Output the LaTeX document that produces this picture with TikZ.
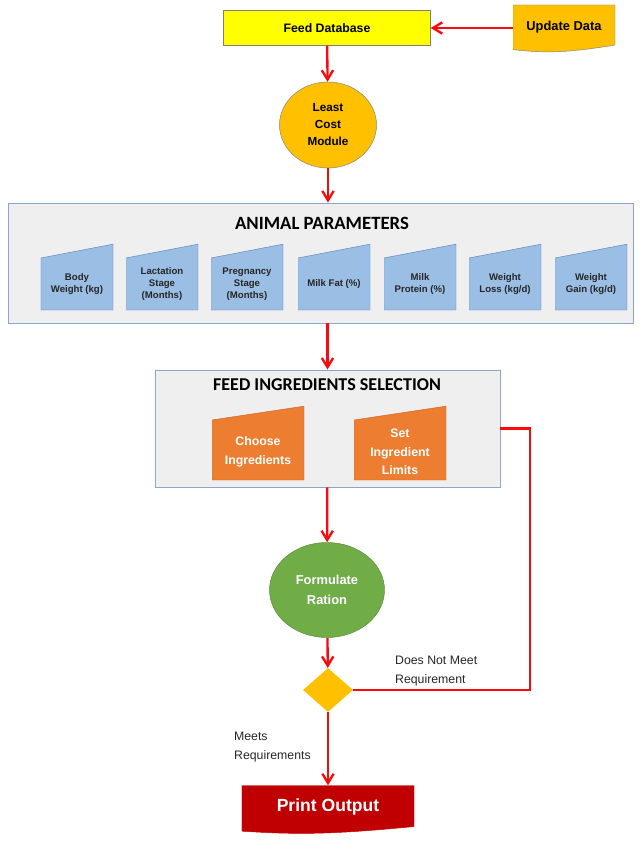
\documentclass[tikz,border=0pt]{standalone}
\usepackage{fontspec}
\setmainfont{Liberation Sans}
\newfontfamily\calib{Carlito}
\usetikzlibrary{positioning,arrows.meta,shapes.geometric,calc}
\definecolor{Yel}{RGB}{255,255,0}
\definecolor{Amber}{RGB}{255,192,0}
\definecolor{Panel}{RGB}{239,239,239}
\definecolor{PanelLine}{RGB}{140,165,205}
\definecolor{Blue}{RGB}{155,190,228}
\definecolor{BlueLine}{RGB}{95,135,185}
\definecolor{Orange}{RGB}{237,125,49}
\definecolor{Green}{RGB}{112,173,71}
\definecolor{Wine}{RGB}{192,0,0}
\definecolor{Arrow}{RGB}{250,10,10}
\begin{document}
\begin{tikzpicture}[x=0.03cm,y=-0.03cm,
 db/.style={draw=gray,fill=Yel,minimum width=6.21cm,minimum height=1.05cm,font=\fontsize{10.5}{12}\selectfont\bfseries},
 doc/.style={inner sep=0pt,path picture={\filldraw[#1] (path picture bounding box.north west) -- (path picture bounding box.north east) -- ([yshift=.24cm]path picture bounding box.south east) .. controls ($(path picture bounding box.south east)!.5!(path picture bounding box.south west)+(0,.5)$) and ($(path picture bounding box.south west)!.3!(path picture bounding box.south east)+(0,-.1)$) .. ([yshift=.1cm]path picture bounding box.south west) -- cycle;}},
 mi/.style n args={2}{inner sep=1pt,path picture={\filldraw[#1] ([yshift=#2]path picture bounding box.south west) -- ([yshift=-.45cm]path picture bounding box.north west) -- ([yshift=-1pt]path picture bounding box.north east) -- ([yshift=#2]path picture bounding box.south east) -- cycle;}},
 cir/.style={ellipse,draw=gray,align=center,inner sep=0pt,font=\fontsize{10}{14.5}\selectfont\bfseries},
 panel/.style={draw=PanelLine,fill=Panel,thick},
 ttl/.style={font=\calib\fontsize{16}{18}\selectfont\bfseries},
 parm/.style={mi={fill=Blue,draw=BlueLine}{.45cm},minimum width=2.16cm,minimum height=2.46cm,align=center,font=\fontsize{8.2}{10.2}\selectfont\bfseries,text=black!85},
 ing/.style={mi={fill=Orange,draw=Orange!85!black}{.57cm},minimum width=2.76cm,minimum height=2.82cm,align=center,text=white,font=\fontsize{10.5}{16}\selectfont\bfseries},
 lbl/.style={anchor=west,align=left,font=\fontsize{10.5}{16}\selectfont,text=black!85},
 ln/.style={line width=2pt,Arrow},
 ar/.style={ln,-{Straight Barb[length=2.8mm,width=3.4mm]}}]
\useasboundingbox (0,0) rectangle (639,844);
% top: database and update
\node[db] (fdb) at (327,28) {Feed Database};
\node[doc={fill=Amber,draw=gray},minimum width=3.06cm,minimum height=1.44cm,text depth=.2cm,font=\fontsize{11}{13}\selectfont\bfseries] (upd) at (564,29) {Update Data};
\node[cir,fill=Amber,minimum width=2.91cm,minimum height=2.58cm] (lcm) at (328,125) {Least\\Cost\\Module};
% animal parameters
\node[panel,minimum width=18.75cm,minimum height=3.6cm] (ap) at (320.5,263) {};
\node[ttl] (apt) at (322,223) {ANIMAL PARAMETERS};
\foreach \x/\t [count=\i] in {77/{Body\\Weight (kg)},162/{Lactation\\Stage\\(Months)},247/{Pregnancy\\Stage\\(Months)},334/{Milk Fat (\%)},420/{Milk\\Protein (\%)},505/{Weight\\Loss (kg/d)},591/{Weight\\Gain (kg/d)}}
 \node[parm] (p\i) at (\x,284) {\t};
% ingredients
\node[panel,minimum width=10.35cm,minimum height=3.51cm] (fis) at (327.5,428.5) {};
\node[ttl,font=\calib\fontsize{15.4}{18}\selectfont\bfseries] (fist) at (327,385) {FEED INGREDIENTS SELECTION};
\node[ing] (ci) at (258,452) {Choose\\Ingredients};
\node[ing] (sl) at (400,452) {Set\\Ingredient\\Limits};
% ration, decision, output
\node[cir,fill=Green,draw=Green!80!black,text=white,minimum width=3.45cm,minimum height=2.85cm,font=\fontsize{11}{17}\selectfont\bfseries] (fr) at (327,590) {Formulate\\Ration};
\node[diamond,fill=Amber,minimum width=1.5cm,minimum height=1.32cm,inner sep=0pt] (dec) at (328,690) {};
\node[doc={fill=Wine,draw=Wine},minimum width=5.16cm,minimum height=1.47cm,text depth=.3cm,text=white,font=\fontsize{15}{17}\selectfont\bfseries] (po) at (328,810) {Print Output};
\node[lbl] (dnm) at (391,671) {Does Not Meet\\Requirement};
\node[lbl] (mr) at (230,747) {Meets\\Requirements};
\coordinate (rt) at (530,428.5);
\draw[ar] (upd.west |- fdb.east) -- (fdb.east);
\draw[ar] (fdb) -- (lcm);
\draw[ar] (lcm.south) -- (lcm.south |- ap.north);
\draw[ar] (ap.south -| fis.north) -- (fis.north);
\draw[ar] (fis) -- (fr);
\draw[ar] (fr) -- (dec);
\draw[ln] (dec.east) -| (rt) -- (fis.east);
\draw[ar] (dec) -- (po);
\end{tikzpicture}
\end{document}
